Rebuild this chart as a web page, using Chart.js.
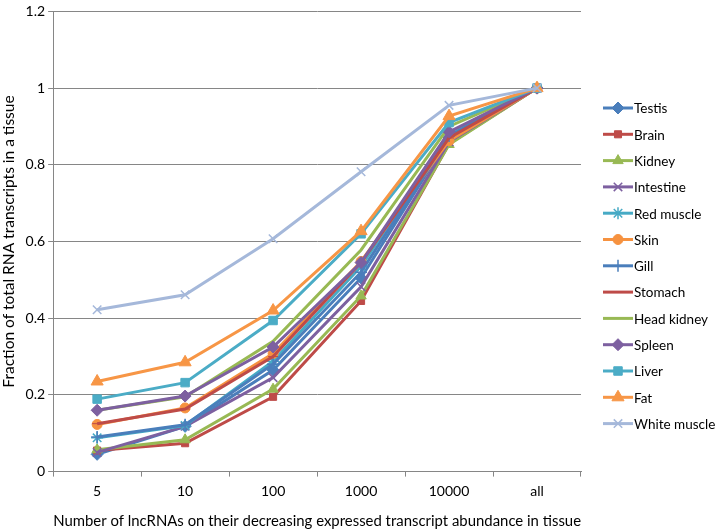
<!DOCTYPE html>
<html>
<head>
<meta charset="utf-8">
<script src="https://cdn.jsdelivr.net/npm/chart.js@4"></script>
<style>
  html, body { margin: 0; padding: 0; background: #fff; }
  #wrap { width: 717px; height: 532px; }
</style>
</head>
<body>
<div id="wrap"><canvas id="chart1" width="717" height="532"></canvas></div>
<script>
// lncRNA share of total RNA transcripts, per tissue

var categories = ['5', '10', '100', '1000', '10000', 'all'];

var testis      = [0.045, 0.118, 0.265, 0.505, 0.870, 1];
var brain       = [0.055, 0.074, 0.195, 0.445, 0.855, 1];
var kidney      = [0.057, 0.083, 0.215, 0.458, 0.853, 1];
var intestine   = [0.050, 0.118, 0.245, 0.482, 0.860, 1];
var redMuscle   = [0.088, 0.120, 0.288, 0.535, 0.880, 1];
var skin        = [0.123, 0.166, 0.308, 0.548, 0.863, 1];
var gill        = [0.090, 0.122, 0.280, 0.520, 0.875, 1];
var stomach     = [0.125, 0.163, 0.300, 0.545, 0.870, 1];
var headKidney  = [0.160, 0.195, 0.340, 0.578, 0.900, 1];
var spleen      = [0.160, 0.197, 0.325, 0.545, 0.886, 1];
var liver       = [0.189, 0.232, 0.394, 0.620, 0.910, 1];
var fat         = [0.235, 0.285, 0.420, 0.627, 0.927, 1];
var whiteMuscle = [0.422, 0.461, 0.607, 0.782, 0.955, 1];

var yTicks = [0, 0.2, 0.4, 0.6, 0.8, 1, 1.2];

var FONT = 'Lato, "Open Sans", sans-serif';

function series(label, data, color, style, radius) {
  return {
    label: label,
    data: data,
    borderColor: color,
    backgroundColor: color,
    borderWidth: 3,
    pointStyle: style || false,
    pointRadius: style ? (radius || 5) : 0,
    pointBorderWidth: (style === 'cross' || style === 'crossRot' || style === 'star') ? 1.5 : 1,
    pointBorderColor: color,
    pointBackgroundColor: color,
    tension: 0
  };
}

var datasets = [
  series('Testis', testis, '#4A7EBB', 'rectRot', 6),
  series('Brain', brain, '#BE4B48', 'rect', 5),
  series('Kidney', kidney, '#98B954', 'triangle', 6),
  series('Intestine', intestine, '#7D60A0', 'crossRot', 6),
  series('Red muscle', redMuscle, '#46AAC5', 'star', 6),
  series('Skin', skin, '#F69240', 'circle', 5),
  series('Gill', gill, '#4A7EBB', 'cross', 6),
  series('Stomach', stomach, '#BE4B48', 'line', 5),
  series('Head kidney', headKidney, '#98B954', null),
  series('Spleen', spleen, '#7D60A0', 'rectRot', 6),
  series('Liver', liver, '#4BACC6', 'rect', 6),
  series('Fat', fat, '#F79646', 'triangle', 7),
  series('White muscle', whiteMuscle, '#A5B8DA', 'crossRot', 6)
];
// later series sit on top, like the original
datasets.forEach(function (d, i) { d.order = datasets.length - i; });

// legend drawn by hand: line with marker, like the office style
var sideLegend = {
  id: 'sideLegend',
  afterDraw: function (chart) {
    var ctx = chart.ctx;
    var x0 = 603, x1 = 633, top = 108, step = 26.3;
    ctx.save();
    datasets.forEach(function (d, i) {
      var y = top + i * step;
      ctx.strokeStyle = d.borderColor;
      ctx.fillStyle = d.borderColor;
      ctx.lineWidth = 3;
      ctx.beginPath();
      ctx.moveTo(x0, y);
      ctx.lineTo(x1, y);
      ctx.stroke();
      if (d.pointStyle) {
        ctx.lineWidth = d.pointBorderWidth;
        Chart.helpers.drawPoint(ctx, {
          pointStyle: d.pointStyle,
          radius: d.pointRadius,
          rotation: 0,
          borderWidth: d.pointBorderWidth
        }, (x0 + x1) / 2, y);
      }
      ctx.fillStyle = '#000';
      ctx.font = '13.5px ' + FONT;
      ctx.textBaseline = 'middle';
      ctx.textAlign = 'left';
      ctx.fillText(d.label, x1 + 1, y + 1);
    });
    ctx.restore();
  }
};

var ctx = document.getElementById('chart1').getContext('2d');
var chart = new Chart(ctx, {
  type: 'line',
  data: {
    labels: categories,
    datasets: datasets
  },
  options: {
    responsive: false,
    animation: false,
    layout: { padding: { left: 0, top: 2, right: 136, bottom: 2 } },
    plugins: {
      legend: { display: false },
      tooltip: { enabled: false }
    },
    scales: {
      x: {
        offset: true,
        grid: {
          offset: true,
          drawOnChartArea: false,
          color: '#868686',
          tickLength: 5
        },
        border: { color: '#868686', width: 1 },
        ticks: { color: '#000', font: { family: FONT, size: 14 }, padding: 6 },
        title: {
          display: true,
          text: 'Number of lncRNAs on their decreasing expressed transcript abundance in tissue',
          color: '#000',
          font: { family: FONT, size: 15.5 },
          padding: { top: 6, bottom: 0 }
        }
      },
      y: {
        min: 0,
        max: 1.2,
        afterBuildTicks: function (axis) {
          axis.ticks = yTicks.map(function (v) { return { value: v }; });
        },
        grid: { color: '#868686', tickLength: 5 },
        border: { color: '#868686', width: 1 },
        ticks: {
          color: '#000',
          font: { family: FONT, size: 14 },
          padding: 3,
          callback: function (v) { return String(Math.round(v * 10) / 10); }
        },
        title: {
          display: true,
          text: 'Fraction of total RNA transcripts in a tissue',
          color: '#000',
          font: { family: FONT, size: 15.5 },
          padding: { top: 0, bottom: 4 }
        }
      }
    }
  },
  plugins: [sideLegend]
});
</script>
</body>
</html>
